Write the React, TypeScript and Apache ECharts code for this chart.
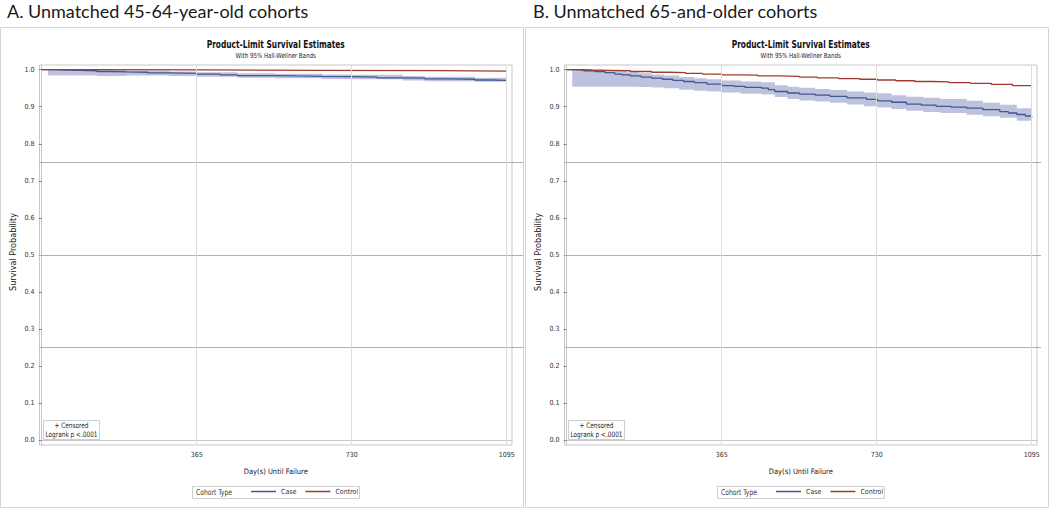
import React, { useEffect, useRef } from "react";
import * as echarts from "echarts";

// ---------- texts ----------
const panelTitles = ["A. Unmatched 45-64-year-old cohorts", "B. Unmatched 65-and-older cohorts"];
const plotTitle = "Product-Limit Survival Estimates";
const plotSubtitle = "With 95% Hall-Wellner Bands";
const xAxisTitle = "Day(s) Until Failure";
const yAxisTitle = "Survival Probability";
const legendTitle = "Cohort Type";
const groupNames = ["Case", "Control"];
const insetLines = ["+ Censored", "Logrank p <.0001"];

// ---------- ticks ----------
const xTicks = [365, 730, 1095];
const yTicks = [0, 0.1, 0.2, 0.3, 0.4, 0.5, 0.6, 0.7, 0.8, 0.9, 1.0];
const refLines = [0.25, 0.5, 0.75];

// ---------- panel A data ----------
const caseADays = [0, 30, 60, 90, 130, 160, 200, 250, 300, 365, 420, 461, 500, 549, 600, 660, 732, 790, 850, 902, 960, 1020, 1060, 1095];
const caseASurv = [1.0, 0.999, 0.998, 0.997, 0.995, 0.994, 0.993, 0.991, 0.990, 0.988, 0.986, 0.984, 0.984, 0.983, 0.982, 0.981, 0.980, 0.978, 0.977, 0.975, 0.974, 0.972, 0.971, 0.970];
const controlADays = [0, 120, 381, 650, 930, 1095];
const controlASurv = [1.0, 0.9995, 0.998, 0.9975, 0.996, 0.9955];
const bandADays = [15, 130, 200, 300, 365, 461, 549, 660, 732, 850, 902, 1020, 1095];
const bandALower = [0.984, 0.983, 0.984, 0.983, 0.981, 0.978, 0.977, 0.975, 0.974, 0.971, 0.969, 0.967, 0.965];
const bandAUpper = [1.0, 0.999, 0.998, 0.995, 0.993, 0.990, 0.989, 0.987, 0.986, 0.983, 0.981, 0.978, 0.975];

// ---------- panel B data ----------
const caseBDays = [0, 20, 40, 66, 90, 113, 130, 150, 175, 200, 225, 250, 275, 301, 330, 365, 395, 420, 459, 475, 490, 520, 548, 585, 620, 660, 706, 732, 765, 800, 835, 870, 905, 942, 980, 1020, 1040, 1060, 1080, 1095];
const caseBSurv = [1.0, 0.999, 0.997, 0.995, 0.992, 0.988, 0.986, 0.983, 0.980, 0.977, 0.974, 0.971, 0.968, 0.965, 0.961, 0.957, 0.955, 0.952, 0.950, 0.946, 0.941, 0.937, 0.934, 0.931, 0.928, 0.924, 0.920, 0.916, 0.912, 0.907, 0.904, 0.901, 0.899, 0.896, 0.892, 0.887, 0.883, 0.879, 0.875, 0.871];
const controlBDays = [0, 30, 60, 100, 150, 200, 240, 280, 320, 365, 410, 450, 500, 548, 590, 640, 690, 732, 775, 820, 860, 900, 950, 1000, 1050, 1095];
const controlBSurv = [1.0, 0.999, 0.998, 0.997, 0.995, 0.993, 0.992, 0.990, 0.988, 0.986, 0.985, 0.983, 0.982, 0.980, 0.978, 0.976, 0.974, 0.972, 0.970, 0.968, 0.967, 0.965, 0.963, 0.960, 0.957, 0.955];
const bandBDays = [13, 60, 100, 140, 170, 200, 230, 265, 300, 330, 365, 410, 459, 490, 520, 548, 585, 620, 660, 700, 732, 765, 800, 840, 880, 942, 980, 1020, 1060, 1095];
const bandBLower = [0.954, 0.954, 0.954, 0.954, 0.953, 0.952, 0.950, 0.946, 0.943, 0.941, 0.938, 0.935, 0.933, 0.926, 0.921, 0.917, 0.914, 0.911, 0.906, 0.901, 0.898, 0.894, 0.889, 0.886, 0.883, 0.878, 0.874, 0.870, 0.862, 0.857];
const bandBUpper = [1.0, 0.998, 0.996, 0.993, 0.990, 0.987, 0.984, 0.980, 0.977, 0.974, 0.971, 0.968, 0.966, 0.958, 0.954, 0.951, 0.948, 0.945, 0.941, 0.938, 0.936, 0.931, 0.927, 0.924, 0.921, 0.916, 0.911, 0.905, 0.896, 0.887];

const panels = [
  { caseDays: caseADays, caseSurv: caseASurv, ctrlDays: controlADays, ctrlSurv: controlASurv, bandDays: bandADays, bandLower: bandALower, bandUpper: bandAUpper },
  { caseDays: caseBDays, caseSurv: caseBSurv, ctrlDays: controlBDays, ctrlSurv: controlBSurv, bandDays: bandBDays, bandLower: bandBLower, bandUpper: bandBUpper },
];

// ---------- styling ----------
const NARROW = "'DejaVu Sans Condensed', 'Liberation Sans', sans-serif";
const CASE_COLOR = "#445694";
const CONTROL_COLOR = "#a23a2e";
const BAND_COLOR = "#bdc3dd";
const FRAME = "#c8c8c8";

const PANEL_DX = 525;
const GRID_LEFT = 39.5;
const GRID_TOP = 65;
const GRID_W = 472.5;
const GRID_H = 380;
const X_MIN = -5.2;
const X_MAX = 1107.5;
const Y_MIN = -0.0125;
const Y_MAX = 1.0125;
const EXT_RIGHT = [523, 1041];

function buildOption() {
  const grid: any[] = [];
  const xAxis: any[] = [];
  const yAxis: any[] = [];
  const series: any[] = [];
  const legend: any[] = [];
  const graphic: any[] = [];

  panels.forEach((p, i) => {
    const dx = i * PANEL_DX;
    const gMain = i * 2;
    const gExt = i * 2 + 1;
    grid.push({ left: GRID_LEFT + dx, top: GRID_TOP, width: GRID_W, height: GRID_H, show: true, borderColor: FRAME, borderWidth: 1, backgroundColor: "transparent" });
    grid.push({ left: GRID_LEFT + dx, top: GRID_TOP, width: EXT_RIGHT[i] - (GRID_LEFT + dx), height: GRID_H, show: false });

    xAxis.push({
      type: "value", gridIndex: gMain, min: X_MIN, max: X_MAX,
      axisLine: { show: true, lineStyle: { color: FRAME } },
      axisTick: { show: true, customValues: xTicks, length: 3, lineStyle: { color: "#888" } },
      axisLabel: { customValues: xTicks, fontSize: 7, color: "#333", margin: 6, fontFamily: NARROW, formatter: (v: number) => String(v) },
      splitLine: { show: false },
      name: xAxisTitle, nameLocation: "middle", nameGap: 22,
      nameTextStyle: { fontSize: 7.5, color: "#222", fontFamily: NARROW },
    });
    xAxis.push({ type: "value", gridIndex: gExt, min: 0, max: 1, show: false });

    yAxis.push({
      type: "value", gridIndex: gMain, min: Y_MIN, max: Y_MAX,
      axisLine: { show: true, lineStyle: { color: FRAME } },
      axisTick: { show: true, customValues: yTicks, length: 3, lineStyle: { color: "#888" } },
      axisLabel: { customValues: yTicks, fontSize: 7, color: "#333", margin: 5, fontFamily: NARROW, formatter: (v: number) => v.toFixed(1) },
      splitLine: { show: false },
    });
    yAxis.push({ type: "value", gridIndex: gExt, min: Y_MIN, max: Y_MAX, show: false });

    // reference lines extending to panel edge
    series.push({
      type: "line", name: "ref" + i, xAxisIndex: gExt, yAxisIndex: gExt, data: [], silent: true,
      markLine: {
        silent: true, symbol: "none", label: { show: false },
        lineStyle: { color: "#b0b0b0", width: 1, type: "solid" },
        data: refLines.map((v) => ({ yAxis: v })),
      },
    });

    // band polygon via custom series
    const bandData = p.bandDays.map((d, k) => [d, p.bandLower[k], p.bandUpper[k]]);
    series.push({
      type: "custom", name: "band" + i, xAxisIndex: gMain, yAxisIndex: gMain, silent: true, z: 1,
      data: bandData, encode: { x: 0, y: [1, 2] },
      renderItem: (params: any, api: any) => {
        if (params.dataIndex !== 0) return null;
        const pts: number[][] = [];
        const n = bandData.length;
        for (let k = 0; k < n; k++) {
          pts.push(api.coord([bandData[k][0], bandData[k][2]]));
          if (k < n - 1) pts.push(api.coord([bandData[k + 1][0], bandData[k][2]]));
        }
        for (let k = n - 1; k >= 0; k--) {
          if (k < n - 1) pts.push(api.coord([bandData[k + 1][0], bandData[k][1]]));
          pts.push(api.coord([bandData[k][0], bandData[k][1]]));
        }
        return { type: "polygon", shape: { points: pts }, style: { fill: BAND_COLOR } };
      },
    });

    // vertical grid lines
    series.push({
      type: "line", name: "vgrid" + i, xAxisIndex: gMain, yAxisIndex: gMain, data: [], silent: true, z: 2,
      markLine: {
        silent: true, symbol: "none", label: { show: false },
        lineStyle: { color: "#dcdcdc", width: 1, type: "solid" },
        data: xTicks.map((v) => ({ xAxis: v })),
      },
    });

    series.push({
      type: "line", name: groupNames[0], xAxisIndex: gMain, yAxisIndex: gMain, step: "end", showSymbol: false, symbol: "none", z: 3,
      data: p.caseDays.map((d, k) => [d, p.caseSurv[k]]),
      lineStyle: { color: CASE_COLOR, width: 1.3 }, itemStyle: { color: CASE_COLOR },
    });
    series.push({
      type: "line", name: groupNames[1], xAxisIndex: gMain, yAxisIndex: gMain, step: "end", showSymbol: false, symbol: "none", z: 4,
      data: p.ctrlDays.map((d, k) => [d, p.ctrlSurv[k]]),
      lineStyle: { color: CONTROL_COLOR, width: 1.3 }, itemStyle: { color: CONTROL_COLOR },
    });

    legend.push({
      data: groupNames, left: 251 + dx, top: 488, orient: "horizontal", padding: 0,
      itemWidth: 25, itemHeight: 1.5, icon: "rect", itemGap: 9, selectedMode: false,
      textStyle: { fontSize: 7, color: "#333", fontFamily: NARROW },
    });

    // panel border
    graphic.push({ type: "rect", silent: true, z: -10, shape: { x: 0.5 + dx, y: 27.5, width: 523, height: 480 }, style: { fill: "#fff", stroke: "#d6d6d6", lineWidth: 1 } });
    // panel title
    graphic.push({ type: "text", silent: true, x: 7 + dx + (i === 1 ? 1 : 0), y: 11, style: { text: panelTitles[i], fontFamily: "Lato, 'Open Sans', sans-serif", fontSize: 18, fill: "#1a1a1a", textVerticalAlign: "middle", textAlign: "left" } });
    // chart title
    const cx = GRID_LEFT + dx + GRID_W / 2;
    graphic.push({ type: "text", silent: true, x: cx, y: 44, scaleX: 0.79, style: { text: plotTitle, fontFamily: NARROW, fontWeight: "bold", fontSize: 10.5, fill: "#111", textAlign: "center", textVerticalAlign: "middle" } });
    graphic.push({ type: "text", silent: true, x: cx, y: 55.5, scaleX: 0.88, style: { text: plotSubtitle, fontFamily: NARROW, fontSize: 7, fill: "#222", textAlign: "center", textVerticalAlign: "middle" } });
    // y axis title
    graphic.push({ type: "text", silent: true, x: 13 + dx, y: 252, rotation: Math.PI / 2, style: { text: yAxisTitle, fontFamily: NARROW, fontSize: 9, fill: "#222", textAlign: "center", textVerticalAlign: "middle" } });
    // inset box
    graphic.push({ type: "rect", silent: true, z: 10, shape: { x: 43.5 + dx, y: 420.5, width: 56, height: 19 }, style: { fill: "#fff", stroke: "#cfcfcf", lineWidth: 1 } });
    graphic.push({ type: "text", silent: true, z: 11, x: 71.5 + dx, y: 425.5, scaleX: 0.86, style: { text: insetLines[0], fontFamily: NARROW, fontSize: 7.5, fill: "#222", textAlign: "center", textVerticalAlign: "middle" } });
    graphic.push({ type: "text", silent: true, z: 11, x: 71.5 + dx, y: 434.5, scaleX: 0.86, style: { text: insetLines[1], fontFamily: NARROW, fontSize: 7.5, fill: "#222", textAlign: "center", textVerticalAlign: "middle" } });
    // legend box
    graphic.push({ type: "rect", silent: true, z: -5, shape: { x: 192.5 + dx, y: 486.5, width: 167, height: 12 }, style: { fill: "#fff", stroke: "#cfcfcf", lineWidth: 1 } });
    graphic.push({ type: "text", silent: true, x: 196 + dx, y: 492.5, scaleX: 0.84, style: { text: legendTitle, fontFamily: NARROW, fontSize: 8, fill: "#333", textAlign: "left", textVerticalAlign: "middle" } });
  });

  return { animation: false, backgroundColor: "#fff", grid, xAxis, yAxis, series, legend, graphic };
}

export default function App() {
  const ref = useRef<HTMLDivElement>(null);
  useEffect(() => {
    if (!ref.current) return;
    const chart = echarts.init(ref.current, undefined, { renderer: "svg" });
    chart.setOption(buildOption() as any);
    return () => chart.dispose();
  }, []);
  return <div ref={ref} style={{ position: "absolute", left: 0, top: 0, width: 1050, height: 509 }} />;
}
